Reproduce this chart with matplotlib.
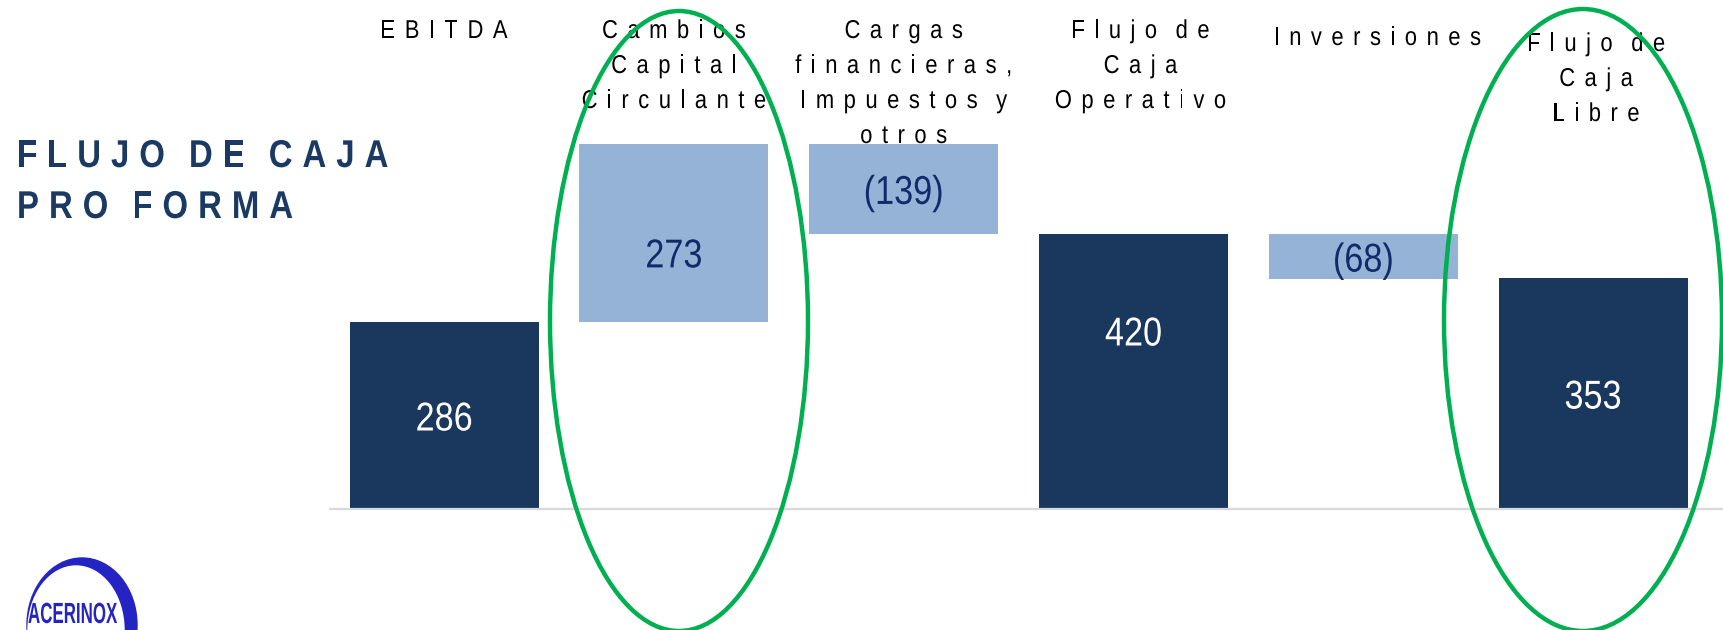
import numpy as np
import matplotlib
matplotlib.use("Agg")
import matplotlib.pyplot as plt
from matplotlib.patches import Ellipse
from matplotlib.path import Path
from matplotlib.patheffects import AbstractPathEffect
from matplotlib.font_manager import FontProperties, findfont
from matplotlib.ft2font import FT2Font

# data
categories = ["EBITDA",
              "Cambios\nCapital\nCirculante",
              "Cargas\nfinancieras,\nImpuestos y\notros",
              "Flujo de\nCaja\nOperativo",
              "Inversiones",
              "Flujo de\nCaja\nLibre"]
values = [286, 273, -139, 420, -68, 353]
is_total = [True, False, False, True, False, True]
value_labels = ["286", "273", "(139)", "420", "(68)", "353"]
title_lines = ["FLUJO DE CAJA", "PRO FORMA"]

# look
W, H, DPI = 1724, 630, 100
FAMILY = "Liberation Sans"
DARK = "#1a375e"
LIGHT = "#95b3d7"
NAVY_TXT = "#112a6c"
GREEN = "#00b050"
LOGO = "#2424c4"


class Squeeze(AbstractPathEffect):
    """Draw the text path narrower (condensed look), keeping it anchored."""

    def __init__(self, width, sx=0.85, ha="center"):
        super().__init__()
        self.sx = sx
        self.shift = width * (1 - sx) / 2 if ha == "center" else 0.0

    def draw_path(self, renderer, gc, tpath, affine, rgbFace=None):
        verts = tpath.vertices.copy()
        verts[:, 0] = verts[:, 0] * self.sx + self.shift
        renderer.draw_path(gc, Path(verts, tpath.codes), affine, rgbFace)


def advances(s, prop, size):
    font = FT2Font(findfont(prop))
    font.set_size(size, DPI)
    return [font.load_char(ord(c)).linearHoriAdvance / 65536 for c in s]


def ctext(axes, x, y, s, size, color, weight="normal", sx=0.85, ha="center",
          va="baseline", z=3):
    prop = FontProperties(family=FAMILY, weight=weight, size=size)
    width = sum(advances(s, prop, 72))  # text path units, em = 100
    eff = Squeeze(width, sx=sx, ha=ha)
    return axes.text(x, y, s, fontproperties=prop, color=color, ha=ha, va=va,
                     path_effects=[eff], zorder=z)


def spaced(axes, x, y, line, size, color, weight="normal", sx=0.85, track=0.0,
           space=5.0, ha="center"):
    # letter-spaced line, one text per character
    prop = FontProperties(family=FAMILY, weight=weight, size=size)
    adv = advances(line, prop, size)
    slots = [space if c == " " else a * sx + track for c, a in zip(line, adv)]
    total = sum(slots) - track
    x0 = x - total / 2 if ha == "center" else x
    for c, a, w in zip(line, adv, slots):
        if c != " ":
            ctext(axes, x0 + a * sx / 2, y, c, size, color, weight=weight, sx=sx)
        x0 += w


fig = plt.figure(figsize=(W / DPI, H / DPI), dpi=DPI)

# bars axes, laid out in pixels
base_px = 509
ax = fig.add_axes([330 / W, (H - base_px) / H, (W - 330) / W, base_px / H], zorder=1)
step_px = 229.8
c0_px = 444.1
ax.set_xlim((330 - c0_px) / step_px, (W - c0_px) / step_px)
ax.set_ylim(0, base_px / (187 / 286))
ax.set_facecolor("none")
for s in ["top", "left", "right"]:
    ax.spines[s].set_visible(False)
ax.spines["bottom"].set_color("#d9d9d9")
ax.spines["bottom"].set_linewidth(1.6)
ax.set_xticks([])
ax.set_yticks([])

label_frac = [0.5, 0.39, 0.5, 0.65, 0.5, 0.5]
running = 0
for i, v in enumerate(values):
    if is_total[i]:
        bottom, height = 0, v
        running = v
        col, tcol = DARK, "white"
    else:
        bottom, height = running, v
        running += v
        col, tcol = LIGHT, NAVY_TXT
    ax.bar(i, height, bottom=bottom, width=189 / step_px, color=col, linewidth=0)
    lo = min(bottom, bottom + height)
    ctext(ax, i, lo + abs(height) * label_frac[i], value_labels[i], 29, tcol,
          va="center_baseline")

# overlay axes in pixel coords (y down)
ov = fig.add_axes([0, 0, 1, 1], zorder=2)
ov.set_xlim(0, W)
ov.set_ylim(H, 0)
ov.axis("off")
ov.set_facecolor("none")

# title
for k, line in enumerate(title_lines):
    spaced(ov, 17, 167 + 51 * k, line, 27.9, "#1b3a63", weight="bold",
           track=10, space=14, ha="left")

# category headers
head_base = [38, 38, 38, 38, 45, 51]
head_dx = [0, 0, 0, 7, 14, 3]
for i, cat in enumerate(categories):
    for k, line in enumerate(cat.split("\n")):
        spaced(ov, c0_px + i * step_px + head_dx[i], head_base[i] + 35 * k, line,
               18.6, "black", track=9.5, space=9)

# green ellipses
ov.add_patch(Ellipse((679, 321), 258, 620, fill=False, edgecolor=GREEN, linewidth=3.2, zorder=5))
ov.add_patch(Ellipse((1583, 320), 278, 622, fill=False, edgecolor=GREEN, linewidth=3.2, zorder=5))

# logo
ov.add_patch(Ellipse((82, 625), 110, 134, color=LOGO, zorder=3))
ov.add_patch(Ellipse((76, 630), 96, 128, color="white", zorder=3))
ctext(ov, 28, 623, "ACERINOX", 21, LOGO, weight="bold", sx=0.58, ha="left", z=4)

fig.savefig("out.png", dpi=DPI)
